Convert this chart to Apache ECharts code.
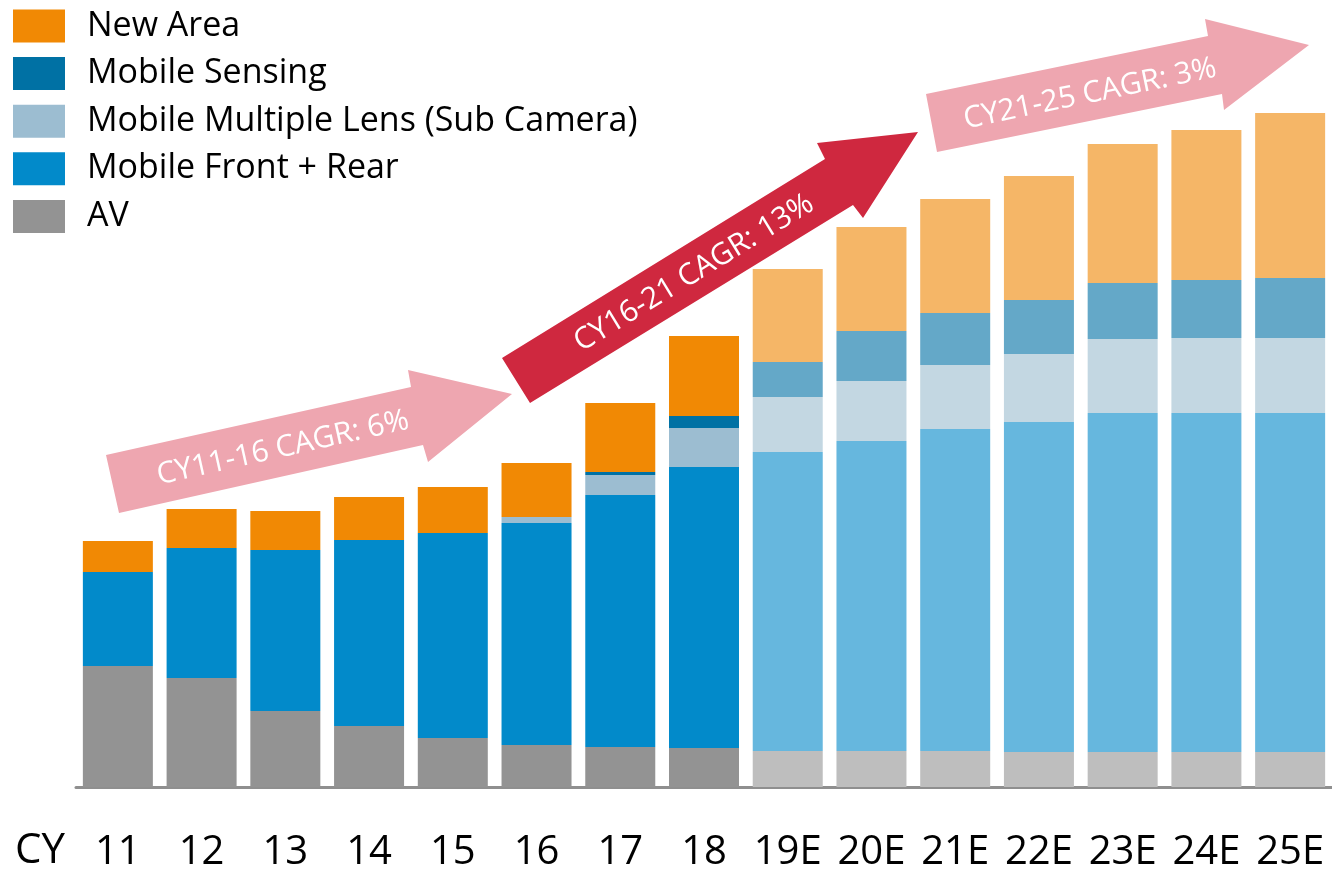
<!DOCTYPE html>
<html>
<head>
<meta charset="utf-8">
<script src="https://cdn.jsdelivr.net/npm/echarts@6/dist/echarts.min.js"></script>
<style>
  html, body { margin: 0; padding: 0; background: #fff; }
  #chart { width: 1332px; height: 873px; }
</style>
</head>
<body>
<div id="chart"></div>
<script>
// categories (CY), first estimated year at index 8
const years = ["11", "12", "13", "14", "15", "16", "17", "18", "19E", "20E", "21E", "22E", "23E", "24E", "25E"];
const firstEstimate = 8;

// stacked values, bottom to top
const av = [121, 109, 76, 61, 49, 42, 40, 39, 36, 36, 36, 35, 35, 35, 35];
const frontRear = [94, 130, 161, 186, 205, 222, 252, 281, 299, 310, 322, 330, 339, 339, 339];
const subCamera = [0, 0, 0, 0, 0, 6, 20, 39, 55, 60, 64, 68, 74, 75, 75];
const sensing = [0, 0, 0, 0, 0, 0, 3, 12, 35, 50, 52, 54, 56, 58, 60];
const newArea = [31, 39, 39, 43, 46, 54, 69, 80, 93, 104, 114, 124, 139, 150, 165];

const FONT = "'Open Sans', 'Noto Sans', sans-serif";

// actual / estimate colours
const seriesDefs = [
  { name: "AV", data: av, color: "#939393", light: "#bebebe" },
  { name: "Mobile Front + Rear", data: frontRear, color: "#028aca", light: "#66b7de" },
  { name: "Mobile Multiple Lens (Sub Camera)", data: subCamera, color: "#9cbdd1", light: "#c3d7e2" },
  { name: "Mobile Sensing", data: sensing, color: "#0071a4", light: "#64a8c8" },
  { name: "New Area", data: newArea, color: "#f18904", light: "#f5b667" },
];

const chart = echarts.init(document.getElementById("chart"));

// arrow annotations (pixel outlines) with their labels
function arrow(points, fill, text, cx, cy, deg) {
  return [
    { type: "polygon", shape: { points: points }, style: { fill: fill }, z: 10 },
    {
      type: "text", x: cx, y: cy, rotation: deg * Math.PI / 180, z: 11,
      style: {
        text: text, fill: "#fff", font: "30px " + FONT,
        align: "center", verticalAlign: "middle",
      },
    },
  ];
}

const graphics = [].concat(
  arrow([[106, 455], [119, 513], [423, 445], [428, 462], [512, 394], [408, 370], [411, 387]],
    "#eea6b0", "CY11-16 CAGR: 6%", 283, 448, 12.6),
  arrow([[502, 358], [530, 403], [853, 205], [863, 218], [918, 132], [817, 143], [825, 159]],
    "#cf283f", "CY16-21 CAGR: 13%", 694, 273, 31.5),
  arrow([[926, 94], [937, 152], [1222, 94], [1224, 110], [1309, 45], [1205, 19], [1208, 36]],
    "#eea6b0", "CY21-25 CAGR: 3%", 1090, 94, 11.7),
  [{
    type: "text", left: 15, top: 830,
    style: { text: "CY", fill: "#000", font: "42px " + FONT },
  }]
);

chart.setOption({
  animation: false,
  legend: {
    orient: "vertical",
    left: 13,
    top: 9,
    padding: 0,
    itemWidth: 52,
    itemHeight: 33,
    itemGap: 13.6,
    icon: "rect",
    data: ["New Area", "Mobile Sensing", "Mobile Multiple Lens (Sub Camera)", "Mobile Front + Rear", "AV"],
    textStyle: { fontFamily: FONT, fontSize: 34, color: "#000", padding: [0, 0, 0, 17] },
  },
  grid: { left: 76, right: 0, top: 87, bottom: 86, outerBoundsMode: "none" },
  xAxis: {
    type: "category",
    data: years,
    axisLine: { lineStyle: { color: "#8f8f8f", width: 3 } },
    axisTick: { show: false },
    axisLabel: { fontFamily: FONT, fontSize: 40, color: "#000", margin: 46, interval: 0 },
  },
  yAxis: { type: "value", min: 0, max: 700, show: false },
  series: seriesDefs.map((s) => ({
    name: s.name,
    type: "bar",
    stack: "total",
    barWidth: 70,
    itemStyle: { color: s.color },
    data: s.data.map((v, i) => ({
      value: v,
      itemStyle: { color: i >= firstEstimate ? s.light : s.color },
    })),
  })),
  graphic: graphics,
});
</script>
</body>
</html>
